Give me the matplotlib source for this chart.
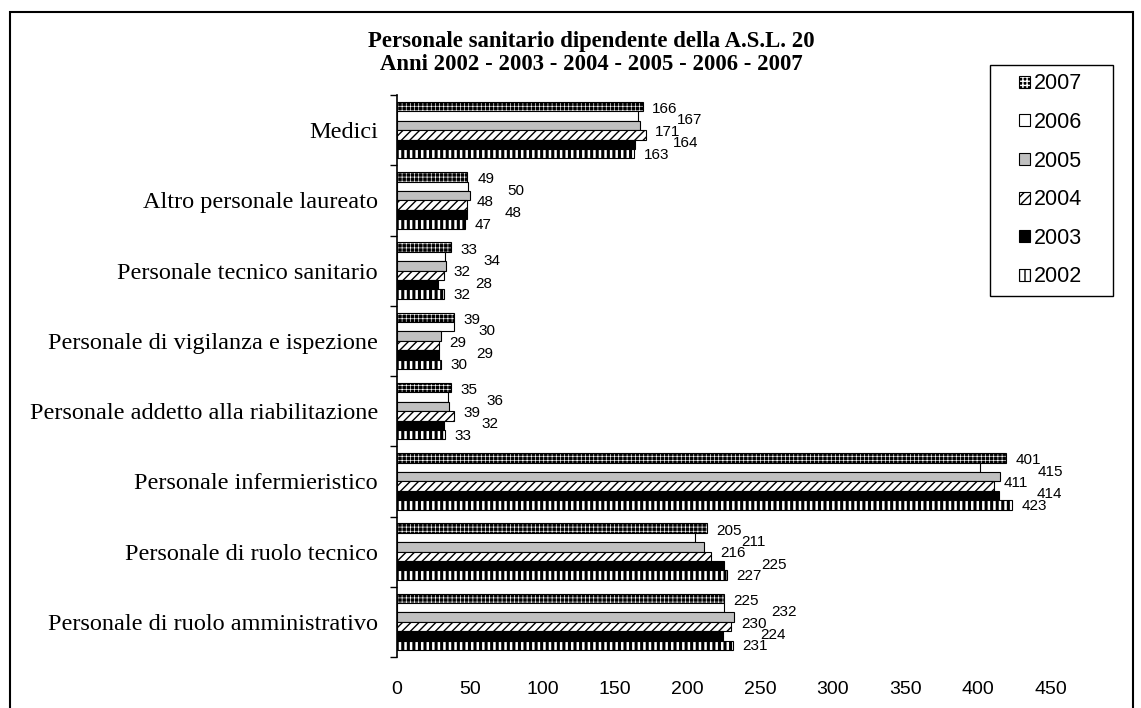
import matplotlib
matplotlib.use('Agg')
import matplotlib.pyplot as plt
from matplotlib.patches import Patch, Rectangle
import numpy as np

# dati
categories = ['Medici', 'Altro personale laureato', 'Personale tecnico sanitario',
              'Personale di vigilanza e ispezione', 'Personale addetto alla riabilitazione',
              'Personale infermieristico', 'Personale di ruolo tecnico',
              'Personale di ruolo amministrativo']
years = ['2007', '2006', '2005', '2004', '2003', '2002']
v2007 = [169, 48, 37, 39, 37, 419, 213, 225]
v2006 = [166, 49, 33, 39, 35, 401, 205, 225]
v2005 = [167, 50, 34, 30, 36, 415, 211, 232]
v2004 = [171, 48, 32, 29, 39, 411, 216, 230]
v2003 = [164, 48, 28, 29, 32, 414, 225, 224]
v2002 = [163, 47, 32, 30, 33, 423, 227, 231]
xticks = [0, 50, 100, 150, 200, 250, 300, 350, 400, 450]
title1 = 'Personale sanitario dipendente della A.S.L. 20'
title2 = 'Anni 2002 - 2003 - 2004 - 2005 - 2006 - 2007'

values = [v2007, v2006, v2005, v2004, v2003, v2002]
# face, hatch, hatch colour, hatch linewidth
styles = {
    '2007': ('black', '++++', 'white', 0.45),
    '2006': ('white', None, None, 0),
    '2005': ('#c0c0c0', None, None, 0),
    '2004': ('white', '////', 'black', 1.0),
    '2003': ('black', None, None, 0),
    '2002': ('white', '|||', 'black', 2.2),
}
labelled = ['2006', '2005', '2004', '2003', '2002']  # 2007 senza etichette

W, H = 1141, 708
fig = plt.figure(figsize=(W / 100, H / 100), dpi=100)
ax = fig.add_axes([397 / W, 1 - 657 / H, (1051 - 397) / W, (657 - 95) / H])

bh = 0.134
y = np.arange(len(categories))


def draw_bars(ax, ypos, vals, face, hatch, hcolor, hlw):
    if hatch:
        bars = ax.barh(ypos, vals, height=bh, color=face, edgecolor=hcolor,
                       hatch=hatch, linewidth=0)
        for b in bars:
            if hasattr(b, 'set_hatch_linewidth'):
                b.set_hatch_linewidth(hlw)
        ax.barh(ypos, vals, height=bh, color='none', edgecolor='black', linewidth=0.8)
    else:
        ax.barh(ypos, vals, height=bh, color=face, edgecolor='black', linewidth=0.8)


handles = []
for k, (yr, vals) in enumerate(zip(years, values)):
    face, hatch, hcolor, hlw = styles[yr]
    ypos = y + (k - 2.5) * bh
    draw_bars(ax, ypos, vals, face, hatch, hcolor, hlw)
    if hatch:
        hp = Patch(facecolor=face, edgecolor=hcolor, hatch=hatch, linewidth=0)
        if hasattr(hp, 'set_hatch_linewidth'):
            hp.set_hatch_linewidth(hlw)
        handles.append((hp, Patch(facecolor='none', edgecolor='black', linewidth=0.8)))
    else:
        handles.append(Patch(facecolor=face, edgecolor='black', linewidth=0.8))

# etichette sparse come nell'originale: righe equidistanti, scostamento alterno
for j, yr in enumerate(labelled):
    vals = values[years.index(yr)]
    dx = 7 if j % 2 == 0 else 27
    for i, (yy, v) in enumerate(zip(y + (j - 1.85) * 0.162, vals)):
        # la prima riga sta all'altezza della barra 2007
        xa = max(v, v2007[i]) if j == 0 else v
        ax.annotate(str(v), (xa, yy), xytext=(dx, 0), textcoords='offset points',
                    va='center', ha='left', fontsize=11, family='Liberation Sans')

ax.set_xlim(0, 450)
ax.set_ylim(len(categories) - 0.5, -0.5)
ax.set_xticks(xticks)
ax.set_xticklabels([str(t) for t in xticks], fontsize=14, family='Liberation Sans')
ax.tick_params(axis='x', length=0, pad=17)
ax.set_yticks(y)
ax.set_yticklabels(categories, fontsize=17.5, family='Liberation Serif')
ax.set_yticks(np.arange(-0.5, len(categories)), minor=True)
ax.tick_params(axis='y', which='major', length=0, pad=13.7)
ax.tick_params(axis='y', which='minor', length=5, width=1, direction='out')
for s in ['top', 'right', 'bottom']:
    ax.spines[s].set_visible(False)
ax.spines['left'].set_linewidth(1.2)

fig.text(591 / W, 1 - 42 / H, title1, ha='center', va='center', fontsize=16.4,
         weight='bold', family='Liberation Serif')
fig.text(591 / W, 1 - 65 / H, title2, ha='center', va='center', fontsize=16.4,
         weight='bold', family='Liberation Serif')

# legenda
fig.patches.append(Rectangle((990 / W, 1 - 296 / H), 123 / W, 231 / H, fill=False,
                             edgecolor='black', linewidth=1.0, transform=fig.transFigure))
leg = fig.legend(handles, years, loc='upper left', bbox_to_anchor=(1002 / W, 1 - 56 / H),
                 frameon=False, prop={'family': 'Liberation Sans', 'size': 15.5},
                 handlelength=0.48, handleheight=0.48, handletextpad=0.2,
                 labelspacing=0.82, borderpad=0.3)

# cornice esterna
fig.patches.append(Rectangle((10 / W, -0.05), (1133 - 10) / W, 1.05 - 12 / H, fill=False,
                             edgecolor='black', linewidth=1.5, transform=fig.transFigure))

fig.savefig('out.png', dpi=100)
